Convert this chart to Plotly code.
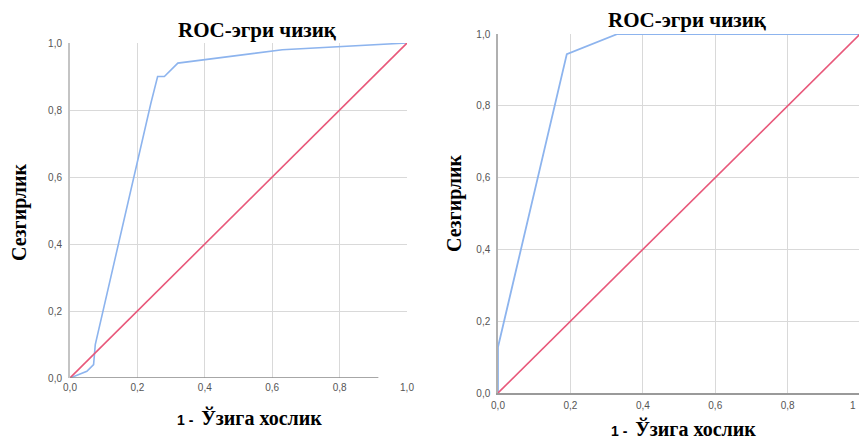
import plotly.graph_objects as go

# ---- data ----
left_fpr = [0.0, 0.05, 0.07, 0.075, 0.24, 0.26, 0.28, 0.32, 0.63, 1.0]
left_tpr = [0.0, 0.02, 0.04, 0.10, 0.82, 0.90, 0.90, 0.94, 0.98, 1.0]
right_fpr = [0.0, 0.0, 0.19, 0.33, 1.0]
right_tpr = [0.0, 0.128, 0.944, 1.0, 1.0]
ref_line = [0.0, 1.0]
tick_vals = [0.0, 0.2, 0.4, 0.6, 0.8, 1.0]
tick_text = ["0,0", "0,2", "0,4", "0,6", "0,8", "1,0"]
title_text = "ROC-эгри чизиқ"
x_title = "Ўзига хослик"
x_title_prefix = "1 -  "
y_title = "Сезгирлик"

W, H = 859, 441
def px(x):
    return x / W
def py(y):
    return 1 - y / H

BLUE = "#8db4ee"
RED = "#e8587a"
GRID = "#d9d9d9"
TICKFONT = dict(family="Liberation Sans, Arial", size=10, color="#555555")

fig = go.Figure()
fig.add_trace(go.Scatter(x=left_fpr, y=left_tpr, mode="lines", line=dict(color=BLUE, width=1.6),
                         xaxis="x", yaxis="y", showlegend=False))
fig.add_trace(go.Scatter(x=ref_line, y=ref_line, mode="lines", line=dict(color=RED, width=1.6),
                         xaxis="x", yaxis="y", showlegend=False))
fig.add_trace(go.Scatter(x=right_fpr, y=right_tpr, mode="lines", line=dict(color=BLUE, width=1.8),
                         xaxis="x2", yaxis="y2", showlegend=False))
fig.add_trace(go.Scatter(x=ref_line, y=ref_line, mode="lines", line=dict(color=RED, width=1.6),
                         xaxis="x2", yaxis="y2", showlegend=False))

common_x = dict(tickvals=tick_vals, ticktext=tick_text, tickfont=TICKFONT, showgrid=True,
                gridcolor=GRID, gridwidth=1, zeroline=False, ticks="", ticklabelstandoff=2,
                automargin=False)
common_y = dict(tickvals=tick_vals, ticktext=tick_text, tickfont=TICKFONT, showgrid=True,
                gridcolor=GRID, gridwidth=1, zeroline=False, ticks="", ticklabelstandoff=4,
                automargin=False)

fig.update_layout(
    width=W, height=H, margin=dict(l=0, r=0, t=0, b=0, autoexpand=False),
    paper_bgcolor="white", plot_bgcolor="white",
    xaxis=dict(domain=[px(70), px(407)], range=[0, 1], anchor="y", showline=False, **common_x),
    yaxis=dict(domain=[py(378), py(43)], range=[0, 1], anchor="x", showline=True,
               linecolor="#c4c4c4", linewidth=2, **common_y),
    xaxis2=dict(domain=[px(498), 1.0], range=[0, 0.997], anchor="y2", showline=True,
                linecolor="#9a9a9a", linewidth=1.5, **common_x),
    yaxis2=dict(domain=[py(393), py(34)], range=[0, 1], anchor="x2", showline=True,
                linecolor="#b0b0b0", linewidth=1.5, **common_y),
)

# left x axis line (partially visible in reference)
fig.add_shape(type="line", xref="x", yref="y", x0=0, x1=0.915, y0=0, y1=0,
              line=dict(color="#8a8a8a", width=1.5), layer="above")

# cut-off tick label on right panel
fig.add_annotation(x=px(858), y=py(405), xref="paper", yref="paper", text="1", showarrow=False,
                   font=TICKFONT, xanchor="right", yanchor="middle")

TFONT = dict(family="Liberation Serif, Times New Roman", size=21, color="black")
fig.add_annotation(x=px(257), y=py(30), xref="paper", yref="paper", text="<b>" + title_text + "</b>",
                   showarrow=False, font=TFONT, xanchor="center", yanchor="middle")
fig.add_annotation(x=px(687), y=py(20), xref="paper", yref="paper", text="<b>" + title_text + "</b>",
                   showarrow=False, font=TFONT, xanchor="center", yanchor="middle")

xt = ("<span style='font-family:Liberation Sans, Arial;font-size:14px'><b>" + x_title_prefix +
      "</b></span><b>" + x_title + "</b>")
fig.add_annotation(x=px(249), y=py(417), xref="paper", yref="paper", text=xt,
                   showarrow=False, font=dict(family="Liberation Serif", size=20, color="black"),
                   xanchor="center", yanchor="middle")
fig.add_annotation(x=px(683), y=py(428), xref="paper", yref="paper", text=xt,
                   showarrow=False, font=dict(family="Liberation Serif", size=20, color="black"),
                   xanchor="center", yanchor="middle")

fig.add_annotation(x=px(20), y=py(212), xref="paper", yref="paper", text="<b>" + y_title + "</b>",
                   showarrow=False, textangle=-90,
                   font=dict(family="Liberation Serif", size=20, color="black"),
                   xanchor="center", yanchor="middle")
fig.add_annotation(x=px(455), y=py(203), xref="paper", yref="paper", text="<b>" + y_title + "</b>",
                   showarrow=False, textangle=-90,
                   font=dict(family="Liberation Serif", size=20, color="black"),
                   xanchor="center", yanchor="middle")

fig.write_html("out.html", config={"displayModeBar": False},
               post_script="document.body.style.margin='0';document.body.style.overflow='hidden';")
